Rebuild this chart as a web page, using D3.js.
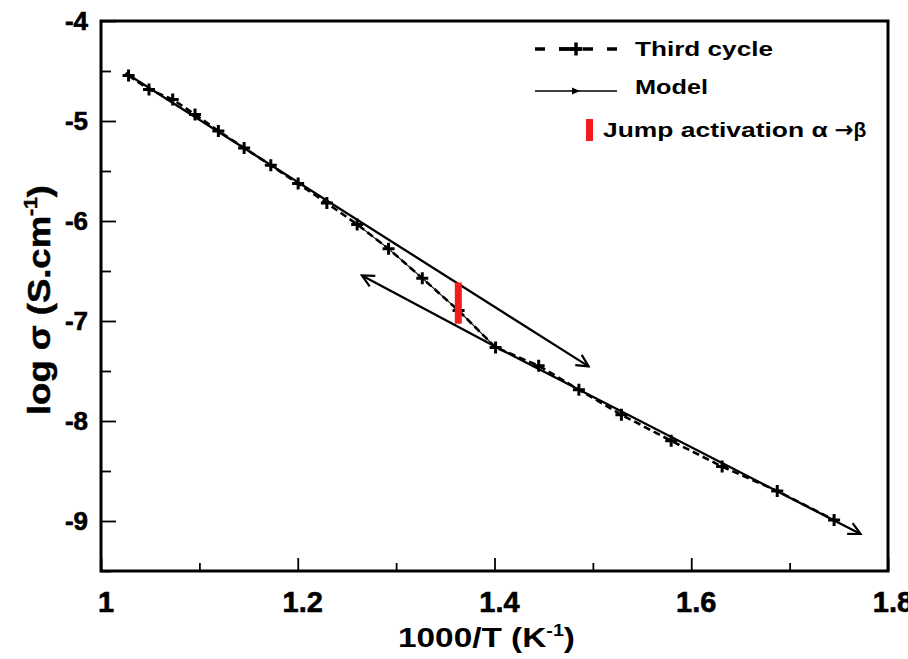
<!DOCTYPE html>
<html>
<head>
<meta charset="utf-8">
<script src="https://cdn.jsdelivr.net/npm/d3@7"></script>
<style>
  html, body { margin: 0; padding: 0; background: #fff; }
  svg { display: block; font-family: "Liberation Sans", Arial, sans-serif; font-weight: bold; }
</style>
</head>
<body>
<svg id="chart" width="908" height="659"></svg>
<script>
// ---------- data ----------
const thirdX = [1.028, 1.0488, 1.0729, 1.0956, 1.1193, 1.1455, 1.1726, 1.2004, 1.2296, 1.2604,
                1.2923, 1.3266, 1.3635, 1.4011, 1.4449, 1.4858, 1.5290, 1.5796, 1.6314, 1.6874, 1.7452];
const thirdY = [-4.546, -4.684, -4.785, -4.935, -5.099, -5.270, -5.443, -5.626, -5.821, -6.034,
                -6.278, -6.572, -6.896, -7.264, -7.447, -7.687, -7.938, -8.198, -8.456, -8.699, -8.990];

const modelUpperX = [1.025, 1.4957];
const modelUpperY = [-4.52, -7.454];
const modelLowerX = [1.2652, 1.4011, 1.7721];
const modelLowerY = [-6.545, -7.258, -9.130];
const transitionX = [1.2604, 1.2923, 1.3266, 1.3635, 1.4011];
const transitionY = [-6.034, -6.278, -6.572, -6.896, -7.264];

const jumpX = 1.3632;
const jumpY = [-6.615, -7.027];

const xTicks = [1, 1.2, 1.4, 1.6, 1.8];
const xTickLabels = ["1", "1.2", "1.4", "1.6", "1.8"];
const xMinorTicks = [1.1, 1.3, 1.5, 1.7];
const yTicks = [-4, -5, -6, -7, -8, -9];
const yTickLabels = ["-4", "-5", "-6", "-7", "-8", "-9"];
const yMinorTicks = [-4.5, -5.5, -6.5, -7.5, -8.5, -9.5];

const legendLabels = ["Third cycle", "Model", "Jump activation α ", "→", "β"];

// ---------- layout ----------
const svg = d3.select("#chart");
const L = 101, R = 888, T = 21, B = 571;
const x = d3.scaleLinear().domain([1, 1.8]).range([L, R]);
const y = d3.scaleLinear().domain([-9.5, -4]).range([B, T]);

const defs = svg.append("defs");
defs.append("marker")
  .attr("id", "vhead").attr("viewBox", "-14 -8 16 16")
  .attr("refX", 0).attr("refY", 0)
  .attr("markerWidth", 16).attr("markerHeight", 16)
  .attr("markerUnits", "userSpaceOnUse")
  .attr("orient", "auto-start-reverse")
  .append("path").attr("d", "M-12,-6 L0,0 L-12,6")
  .attr("fill", "none").attr("stroke", "#000").attr("stroke-width", 2.2);
defs.append("marker")
  .attr("id", "tri").attr("viewBox", "-6 -4 8 8")
  .attr("refX", 0).attr("refY", 0)
  .attr("markerWidth", 8).attr("markerHeight", 8)
  .attr("markerUnits", "userSpaceOnUse")
  .attr("orient", "auto")
  .append("path").attr("d", "M-6,-3.5 L2,0 L-6,3.5 Z").attr("fill", "#000");

// ---------- axes (inward ticks) ----------
const xAxisMajor = d3.axisBottom(x).tickValues(xTicks).tickSizeInner(-13).tickSizeOuter(0).tickFormat("");
const xAxisMinor = d3.axisBottom(x).tickValues(xMinorTicks).tickSizeInner(-8).tickSizeOuter(0).tickFormat("");
const yAxisMajor = d3.axisLeft(y).tickValues(yTicks).tickSizeInner(-15).tickSizeOuter(0).tickFormat("");
const yAxisMinor = d3.axisLeft(y).tickValues(yMinorTicks).tickSizeInner(-10).tickSizeOuter(0).tickFormat("");

function styleAxis(g) {
  g.select(".domain").remove();
  g.selectAll(".tick line").attr("stroke", "#000").attr("stroke-width", 1.8);
}
svg.append("g").attr("transform", `translate(0,${B})`).call(xAxisMajor).call(styleAxis);
svg.append("g").attr("transform", `translate(0,${B})`).call(xAxisMinor).call(styleAxis);
svg.append("g").attr("transform", `translate(${L},0)`).call(yAxisMajor).call(styleAxis);
svg.append("g").attr("transform", `translate(${L},0)`).call(yAxisMinor).call(styleAxis);

// tick labels
svg.append("g").selectAll("text").data(xTicks).join("text")
  .attr("x", d => x(d) + 5).attr("y", 612)
  .attr("text-anchor", "middle").attr("font-size", 29)
  .attr("stroke", "#000").attr("stroke-width", 0.6)
  .text((d, i) => xTickLabels[i]);
svg.append("g").selectAll("text").data(yTicks).join("text")
  .attr("x", 88).attr("y", d => y(d) + 9)
  .attr("text-anchor", "end").attr("font-size", 26)
  .attr("stroke", "#000").attr("stroke-width", 0.6)
  .text((d, i) => yTickLabels[i]);

// axis titles
const xt = svg.append("text").attr("x", 398).attr("y", 647).attr("font-size", 27)
  .attr("textLength", 177).attr("lengthAdjust", "spacingAndGlyphs");
xt.append("tspan").text("1000/T (K");
xt.append("tspan").attr("font-size", 16).attr("dy", -11).text("-1");
xt.append("tspan").attr("dy", 11).text(")");

const yt = svg.append("text").attr("transform", "translate(50,415) rotate(-90)")
  .attr("font-size", 31).attr("textLength", 230).attr("lengthAdjust", "spacingAndGlyphs")
  .attr("stroke", "#000").attr("stroke-width", 0.5);
yt.append("tspan").text("log σ (S.cm");
yt.append("tspan").attr("font-size", 18).attr("dy", -13).text("-1");
yt.append("tspan").attr("dy", 13).text(")");

// ---------- data lines ----------
const line = d3.line().x(d => x(d[0])).y(d => y(d[1]));
const pts = (xs, ys) => xs.map((v, i) => [v, ys[i]]);

// thin transition line
svg.append("path").datum(pts(transitionX, transitionY)).attr("d", line)
  .attr("fill", "none").attr("stroke", "#000").attr("stroke-width", 1.1);

// model lines
svg.append("path").datum(pts(modelUpperX, modelUpperY)).attr("d", line)
  .attr("fill", "none").attr("stroke", "#000").attr("stroke-width", 2.3)
  .attr("marker-end", "url(#vhead)");
svg.append("path").datum(pts(modelLowerX, modelLowerY)).attr("d", line)
  .attr("fill", "none").attr("stroke", "#000").attr("stroke-width", 2.3)
  .attr("marker-start", "url(#vhead)").attr("marker-end", "url(#vhead)");

// third cycle dashed line
svg.append("path").datum(pts(thirdX, thirdY)).attr("d", line)
  .attr("fill", "none").attr("stroke", "#000").attr("stroke-width", 2.6)
  .attr("stroke-dasharray", "7,4");

// plus markers
function plusPath(s) { return `M${-s},0 L${s},0 M0,${-s} L0,${s}`; }
svg.append("g").selectAll("path").data(pts(thirdX, thirdY)).join("path")
  .attr("transform", d => `translate(${x(d[0])},${y(d[1])})`)
  .attr("d", plusPath(6))
  .attr("stroke", "#000").attr("stroke-width", 3).attr("fill", "none");

// jump activation bar
svg.append("rect")
  .attr("x", x(jumpX) - 3.5).attr("width", 7)
  .attr("y", y(jumpY[0])).attr("height", y(jumpY[1]) - y(jumpY[0]))
  .attr("fill", "#f21c1c");

// ---------- frame ----------
svg.append("rect").attr("x", L).attr("y", T).attr("width", R - L).attr("height", B - T)
  .attr("fill", "none").attr("stroke", "#000").attr("stroke-width", 3);

// ---------- legend ----------
const lg = svg.append("g");
lg.append("line").attr("x1", 535).attr("x2", 617).attr("y1", 49).attr("y2", 49)
  .attr("stroke", "#000").attr("stroke-width", 3.5).attr("stroke-dasharray", "10,14");
lg.append("line").attr("x1", 559).attr("x2", 582).attr("y1", 49).attr("y2", 49)
  .attr("stroke", "#000").attr("stroke-width", 3.5);
lg.append("path").attr("transform", "translate(576,49)").attr("d", plusPath(6.5))
  .attr("stroke", "#000").attr("stroke-width", 3.5);
lg.append("text").attr("x", 635).attr("y", 56).attr("font-size", 21)
  .attr("textLength", 138).attr("lengthAdjust", "spacingAndGlyphs").text(legendLabels[0]);

lg.append("path").attr("d", "M535,91 L578,91 L617,91")
  .attr("stroke", "#000").attr("stroke-width", 1.3).attr("fill", "none")
  .attr("marker-mid", "url(#tri)");
lg.append("text").attr("x", 635).attr("y", 94).attr("font-size", 21)
  .attr("textLength", 73).attr("lengthAdjust", "spacingAndGlyphs").text(legendLabels[1]);

lg.append("rect").attr("x", 586).attr("y", 119).attr("width", 7).attr("height", 22).attr("fill", "#f21c1c");
const jt = lg.append("text").attr("x", 603).attr("y", 137).attr("font-size", 21);
jt.append("tspan").attr("textLength", 232).attr("lengthAdjust", "spacingAndGlyphs").text(legendLabels[2]);
jt.append("tspan").attr("font-family", "DejaVu Sans").attr("font-weight", "normal")
  .attr("font-size", 22).attr("stroke", "#000").attr("stroke-width", 0.6).text(legendLabels[3]);
jt.append("tspan").text(legendLabels[4]);
</script>
</body>
</html>
